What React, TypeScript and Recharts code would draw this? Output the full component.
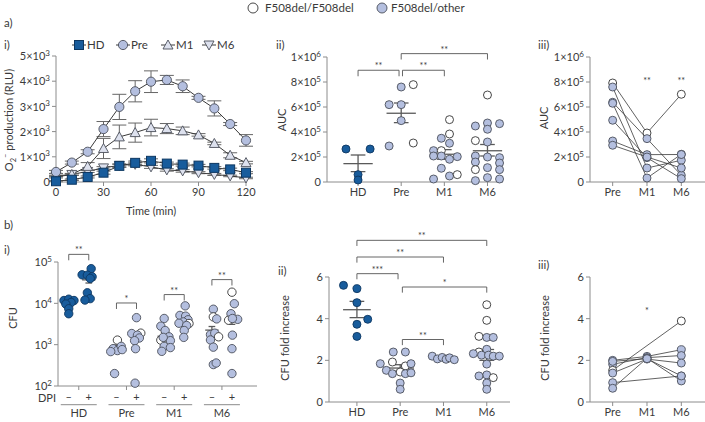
import React from "react";
import {
  ComposedChart,
  Line,
  Scatter,
  XAxis,
  YAxis,
  ErrorBar,
  ReferenceLine,
} from "recharts";

const FONT = "Lato, 'Noto Sans', 'DejaVu Sans', sans-serif";
const INK = "#3a3a3a";
const AXIS = "#8c8c8c";
const DARK = "#185c9c";
const DARK_EDGE = "#0d3761";
const LIGHT = "#b4bfdf";
const EDGE = "#4b4f5a";
const TRI = "#dde1ee";
const MEAN = "#5a5a5a";
const FILL = [DARK, LIGHT, "#ffffff"];
const STROKE = [DARK_EDGE, EDGE, "#333333"];

// kind: 0 = healthy donor (dark), 1 = F508del/other (light), 2 = F508del/F508del (open)
type Pt = [number, number, number]; // value, x jitter (category units), kind

// ---------- a) i) O2- production kinetics ----------
const TIME = [0, 10, 20, 30, 40, 50, 60, 70, 80, 90, 100, 110, 120];
const HD_O2 = [30, 90, 200, 370, 640, 760, 840, 730, 690, 650, 560, 500, 370];
const HD_ERR = [20, 30, 40, 60, 60, 70, 80, 60, 60, 50, 50, 50, 40];
const PRE_O2 = [400, 770, 1200, 2100, 2980, 3600, 3980, 4050, 3800, 3340, 2920, 2300, 1650];
const PRE_ERR = [60, 60, 80, 300, 500, 420, 430, 180, 250, 60, 300, 60, 230];
const M1_O2 = [200, 300, 620, 1330, 1790, 1960, 2160, 2120, 2030, 1870, 1530, 1060, 770];
const M1_ERR = [40, 40, 150, 400, 470, 380, 330, 200, 150, 50, 50, 100, 50];
const M6_O2 = [240, 300, 420, 560, 660, 700, 600, 480, 440, 370, 300, 240, 160];
const M6_ERR = [30, 30, 40, 50, 60, 60, 60, 50, 50, 40, 40, 30, 30];
const SERIES = ["HD", "Pre", "M1", "M6"];

// ---------- a) ii) AUC (x10^5) ----------
const AUC_UNIT = 1e5;
const AUC_HD: Pt[] = [[2.64, -0.28, 0], [2.64, 0.28, 0], [0.59, 0, 0], [0.16, 0, 0]];
const AUC_PRE: Pt[] = [
  [7.6, 0, 1], [7.79, 0.28, 2], [6.19, -0.28, 1], [6.19, 0, 1], [4.91, 0, 1], [2.88, -0.28, 1], [3.12, 0.28, 2],
];
const AUC_M1: Pt[] = [
  [4.99, 0.12, 2], [3.84, 0.12, 2], [3.5, -0.07, 1], [3.1, 0.12, 1], [2.51, -0.25, 1], [2.51, -0.07, 2],
  [2.08, -0.25, 1], [2.08, -0.07, 1], [1.82, 0.12, 1], [2.03, 0.3, 1], [1.1, -0.07, 1], [0.48, 0.12, 1],
  [0.59, 0.3, 2], [0.24, -0.25, 1],
];
const AUC_M6: Pt[] = [
  [6.96, 0, 2], [4.48, -0.28, 1], [4.72, 0, 1], [4.67, 0.28, 1], [4.22, 0, 1], [3.31, -0.28, 2], [3.2, 0, 1],
  [2.08, -0.28, 1], [2.0, 0, 1], [1.95, 0.28, 1], [1.6, -0.28, 1], [1.52, 0.28, 1], [1.15, 0, 1],
  [0.99, -0.28, 2], [0.99, 0.28, 1], [0.35, 0, 1], [0.11, -0.28, 1], [0.24, 0.28, 1],
];
const AUC_MEAN = [1.47, 5.5, 2.22, 2.5];
const AUC_LO = [0.83, 4.75, 1.82, 2.08];
const AUC_HI = [2.16, 6.32, 2.59, 3.0];

// ---------- a) iii) paired AUC (x10^5) ----------
const PAIRED_CATS = ["Pre", "M1", "M6"];
const AUC_P_PRE = [7.92, 7.6, 6.38, 6.3, 4.94, 3.28, 2.94];
const AUC_P_M1 = [3.92, 1.12, 3.47, 0.32, 1.95, 2.19, 2.0];
const AUC_P_M6 = [7.02, 1.74, 0.54, 2.22, 0.27, 2.2, 1.12];
const AUC_P_KIND = [2, 1, 1, 1, 1, 1, 1];

// ---------- b) i) CFU with / without DPI ----------
const CFU_GROUPS = ["HD", "Pre", "M1", "M6"];
const CFU_SETS: Pt[][] = [
  // HD -
  [[11700, -0.1, 0], [12600, 0, 0], [11700, 0.11, 0], [10500, 0.05, 0], [9600, -0.06, 0], [7400, 0, 0], [5600, 0, 0]],
  // HD +
  [[69000, 0.05, 0], [49000, -0.14, 0], [48000, -0.03, 0], [44000, 0.07, 0], [40000, 0.03, 0], [18000, -0.03, 0], [13000, 0.03, 0], [12000, -0.08, 0]],
  // Pre -
  [[1290, 0.02, 2], [800, -0.07, 1], [720, 0.02, 1], [910, 0.1, 1], [760, 0.12, 1], [680, -0.12, 1], [200, -0.04, 1]],
  // Pre +
  [[4500, 0, 1], [1860, -0.1, 1], [1900, 0.09, 2], [1700, 0.02, 1], [1450, 0.06, 1], [1250, -0.04, 1], [800, -0.02, 1], [117, -0.03, 1]],
  // M1 -
  [[4300, 0, 1], [2800, -0.07, 1], [2200, 0.02, 1], [1290, -0.07, 2], [1550, 0.1, 1], [1250, 0.13, 1], [1500, -0.02, 1], [910, 0, 1], [850, 0.13, 1], [690, -0.05, 1]],
  // M1 +
  [[8700, 0.02, 1], [5100, -0.09, 1], [4900, 0.03, 1], [4000, 0.08, 1], [3550, -0.02, 1], [3250, 0.1, 2], [3300, -0.11, 1], [2900, 0.05, 1], [2200, 0, 1], [1500, -0.01, 1]],
  // M6 -
  [[7200, 0.03, 1], [4700, 0.03, 2], [4200, 0.1, 1], [1750, -0.03, 1], [1900, 0.06, 1], [1550, 0.14, 2], [1300, -0.03, 1], [870, 0.03, 1], [330, 0.03, 1], [360, 0.09, 1]],
  // M6 +
  [[18600, 0, 2], [9800, 0.05, 1], [5600, -0.02, 1], [4100, 0.12, 1], [3900, -0.07, 2], [4300, 0.01, 1], [1700, 0.01, 1], [800, 0, 1], [200, 0, 1]],
];
const CFU_MEAN = [9800, 37000, 850, 1600, 1600, 3500, 2250, 4000];
const CFU_LO = [8800, 31000, 740, 1300, 1250, 2900, 1800, 3100];
const CFU_HI = [10900, 46000, 980, 1950, 1950, 4200, 2750, 5300];

// ---------- b) ii) CFU fold increase ----------
const FOLD_HD: Pt[] = [[5.6, -0.31, 0], [5.44, 0, 0], [4.77, 0, 0], [3.97, 0.25, 0], [3.73, 0, 0], [3.15, 0, 0]];
const FOLD_PRE: Pt[] = [
  [2.4, -0.16, 1], [2.4, 0.12, 1], [1.84, -0.46, 1], [1.92, -0.18, 2], [1.73, 0.12, 2], [1.84, 0.25, 1],
  [1.52, -0.32, 1], [1.44, 0, 2], [1.36, -0.18, 1], [1.36, 0.12, 1], [1.4, 0.25, 1], [0.91, 0, 1], [0.61, 0, 1],
];
const FOLD_M1: Pt[] = [[2.2, -0.26, 1], [2.07, -0.14, 1], [2.14, -0.03, 1], [2.05, 0.06, 1], [2.12, 0.14, 1], [2.03, 0.25, 1]];
const FOLD_M6: Pt[] = [
  [4.67, 0, 2], [3.92, 0, 2], [3.15, -0.18, 2], [3.1, 0, 1], [3.1, 0.15, 1], [2.53, 0, 1], [2.4, -0.18, 2],
  [2.32, -0.31, 1], [2.25, -0.12, 1], [2.25, 0.04, 1], [2.2, 0.15, 1], [2.2, 0.29, 1], [1.82, 0, 1],
  [1.3, 0, 1], [1.25, -0.18, 1], [1.17, 0.15, 2], [0.91, 0, 1], [0.61, 0, 1],
];
const FOLD_MEAN = [4.43, 1.63, 2.07, 2.27];
const FOLD_LO = [4.05, 1.47, 2.04, 2.0];
const FOLD_HI = [4.83, 1.79, 2.1, 2.52];

// ---------- b) iii) paired fold increase ----------
const FOLD_P_PRE = [2.0, 1.81, 1.52, 1.39, 0.93, 0.66, 1.95];
const FOLD_P_M1 = [2.19, 2.13, null, 2.06, null, 2.1, 2.08];
const FOLD_P_M6 = [2.51, 2.23, 3.89, 1.87, 1.25, 1.01, 1.25];
const FOLD_P_KIND = [1, 1, 2, 1, 1, 1, 1];

const toPts = (groups: Pt[][], unit = 1) =>
  groups.flatMap((g, ci) => g.map(([v, dx, k]) => ({ x: ci + dx, y: v * unit, k })));

const pairedPts = (cols: (number | null)[][], kinds: number[], unit = 1) =>
  cols.flatMap((col, ci) =>
    col.flatMap((v, si) => (v == null ? [] : [{ x: ci, y: v * unit, k: kinds[si] }]))
  );

const dot = (r: number) => (p: any) => (
  <circle
    key={p.index}
    cx={p.cx}
    cy={p.cy}
    r={r}
    fill={FILL[p.payload.k]}
    stroke={STROKE[p.payload.k]}
    strokeWidth={0.9}
  />
);

const seg = (key: string, x1: number, y1: number, x2: number, y2: number, stroke: string, w: number, label?: any) => (
  <ReferenceLine
    key={key}
    segment={[{ x: x1, y: y1 }, { x: x2, y: y2 }]}
    stroke={stroke}
    strokeWidth={w}
    ifOverflow="visible"
    label={label}
  />
);

const meanLines = (id: string, xs: number[], mean: number[], lo: number[], hi: number[], hw: number, cw: number) =>
  xs.flatMap((c, i) => [
    seg(`${id}m${i}`, c - hw, mean[i], c + hw, mean[i], MEAN, 1.3),
    seg(`${id}v${i}`, c, lo[i], c, hi[i], MEAN, 1.3),
    seg(`${id}l${i}`, c - cw, lo[i], c + cw, lo[i], MEAN, 1.3),
    seg(`${id}h${i}`, c - cw, hi[i], c + cw, hi[i], MEAN, 1.3),
  ]);

const starLabel = (text: string) => ({
  value: text,
  position: "top",
  offset: 1,
  fill: INK,
  fontSize: 9,
  fontFamily: FONT,
});

const bracket = (id: string, x1: number, x2: number, y: number, yLow: number, text: string) => [
  seg(`${id}t`, x1, y, x2, y, "#555", 0.9, starLabel(text)),
  seg(`${id}a`, x1, y, x1, yLow, "#555", 0.9),
  seg(`${id}b`, x2, y, x2, yLow, "#555", 0.9),
];

const stars = (id: string, x: number, y: number, text: string) =>
  seg(id, x - 0.05, y, x + 0.05, y, "none", 0, starLabel(text));

const axisBase = {
  stroke: AXIS,
  tickLine: { stroke: AXIS },
  tickSize: 4,
  tick: { fill: INK, fontSize: 11, fontFamily: FONT },
  interval: 0 as const,
};

// y tick with a real raised exponent: "5×10³", "1×10⁶", "10⁴"
const sciTick = (fmt: (v: number) => [string, string]) => (p: any) => {
  const [base, exp] = fmt(p.payload.value);
  return (
    <text
      key={p.payload.value}
      x={p.x}
      y={p.y}
      dy="0.38em"
      textAnchor="end"
      fill={INK}
      fontSize={11}
      fontFamily={FONT}
    >
      {base}
      {exp && (
        <tspan dy={-4.5} fontSize={8}>
          {exp}
        </tspan>
      )}
    </text>
  );
};

const o2Fmt = (v: number): [string, string] => (v === 0 ? ["0", ""] : [`${v / 1000}×10`, "3"]);
const aucFmt = (v: number): [string, string] =>
  v === 0 ? ["0", ""] : v === 1e6 ? ["1×10", "6"] : [`${v / 1e5}×10`, "5"];
const logFmt = (v: number): [string, string] => ["10", String(Math.round(Math.log10(v)))];

const box = (l: number, t: number, w: number, h: number): React.CSSProperties => ({
  position: "absolute",
  left: l,
  top: t,
  width: w,
  height: h,
});

function Txt({
  x, y, children, anchor = "start", rotate = false, size = 11,
}: { x: number; y: number; children: React.ReactNode; anchor?: "start" | "middle" | "end"; rotate?: boolean; size?: number }) {
  const tx = anchor === "start" ? "0" : anchor === "middle" ? "-50%" : "-100%";
  return (
    <div
      style={{
        position: "absolute",
        left: x,
        top: y,
        transform: `translate(${tx}, -50%)${rotate ? " rotate(-90deg)" : ""}`,
        fontSize: size,
        color: INK,
        whiteSpace: "nowrap",
        lineHeight: 1,
      }}
    >
      {children}
    </div>
  );
}

const A1_ROWS = TIME.map((t, i) => ({
  t,
  hd: HD_O2[i], hdE: HD_ERR[i],
  pre: PRE_O2[i], preE: PRE_ERR[i],
  m1: M1_O2[i], m1E: M1_ERR[i],
  m6: M6_O2[i], m6E: M6_ERR[i],
}));

const square = (p: any) => (
  <rect key={p.index} x={p.cx - 4.5} y={p.cy - 4.5} width={9} height={9} fill={DARK} stroke={DARK_EDGE} strokeWidth={1} />
);
const circ = (p: any) => <circle key={p.index} cx={p.cx} cy={p.cy} r={4.6} fill={LIGHT} stroke={EDGE} strokeWidth={0.9} />;
const triUp = (p: any) => (
  <polygon key={p.index} points={`${p.cx},${p.cy - 5} ${p.cx - 5},${p.cy + 4} ${p.cx + 5},${p.cy + 4}`} fill={TRI} stroke={EDGE} strokeWidth={0.9} />
);
const triDown = (p: any) => (
  <polygon key={p.index} points={`${p.cx},${p.cy + 5} ${p.cx - 5},${p.cy - 4} ${p.cx + 5},${p.cy - 4}`} fill={TRI} stroke={EDGE} strokeWidth={0.9} />
);
const MARKERS = [square, circ, triUp, triDown];

function PanelAi() {
  return (
    <div style={box(0, 30, 260, 190)}>
      <ComposedChart width={260} height={190} data={A1_ROWS} margin={{ top: 26, right: 14, bottom: 18, left: 16 }}>
        <XAxis {...axisBase} dataKey="t" type="number" domain={[0, 120]} ticks={[0, 30, 60, 90, 120]} height={20} />
        <YAxis
          {...axisBase}
          type="number"
          domain={[0, 5000]}
          ticks={[0, 1000, 2000, 3000, 4000, 5000]}
          width={40}
          tick={sciTick(o2Fmt)}
        />
        <Line dataKey="m6" stroke={INK} strokeWidth={1} dot={triDown} isAnimationActive={false}>
          <ErrorBar dataKey="m6E" width={7} stroke="#666" strokeWidth={1} />
        </Line>
        <Line dataKey="m1" stroke={INK} strokeWidth={1} dot={triUp} isAnimationActive={false}>
          <ErrorBar dataKey="m1E" width={7} stroke="#666" strokeWidth={1} />
        </Line>
        <Line dataKey="pre" stroke={INK} strokeWidth={1} dot={circ} isAnimationActive={false}>
          <ErrorBar dataKey="preE" width={7} stroke="#666" strokeWidth={1} />
        </Line>
        <Line dataKey="hd" stroke={INK} strokeWidth={1} dot={square} isAnimationActive={false}>
          <ErrorBar dataKey="hdE" width={7} stroke="#666" strokeWidth={1} />
        </Line>
      </ComposedChart>
    </div>
  );
}

function LegendAi() {
  const xs = [79, 123, 168, 209];
  return (
    <svg style={box(0, 35, 260, 20)} width={260} height={20}>
      {SERIES.map((s, i) => (
        <g key={s}>
          <line x1={xs[i] - 7} x2={xs[i] + 7} y1={10} y2={10} stroke={INK} strokeWidth={1} />
          {MARKERS[i]({ cx: xs[i], cy: 10, index: s })}
          <text x={xs[i] + 8} y={10} dy="0.35em" fontSize={11.5} fill={INK} fontFamily={FONT}>
            {s}
          </text>
        </g>
      ))}
    </svg>
  );
}

function PanelAii() {
  const pts = toPts([AUC_HD, AUC_PRE, AUC_M1, AUC_M6], AUC_UNIT);
  const u = (a: number[]) => a.map((v) => v * AUC_UNIT);
  return (
    <div style={box(270, 30, 240, 170)}>
      <ComposedChart width={240} height={170} margin={{ top: 27, right: 7, bottom: 0, left: 12 }}>
        <XAxis
          {...axisBase}
          dataKey="x"
          type="number"
          domain={[-0.72, 3.36]}
          ticks={[0, 1, 2, 3]}
          tickFormatter={(v: number) => SERIES[v]}
          height={18}
        />
        <YAxis
          {...axisBase}
          dataKey="y"
          type="number"
          domain={[0, 1e6]}
          ticks={[0, 2e5, 4e5, 6e5, 8e5, 1e6]}
          width={45}
          tick={sciTick(aucFmt)}
        />
        <Scatter data={pts} shape={dot(4)} isAnimationActive={false} />
        {meanLines("a2", [0, 1, 2, 3], u(AUC_MEAN), u(AUC_LO), u(AUC_HI), 0.34, 0.17)}
        {bracket("b1", 0, 0.95, 8.94e5, 8.46e5, "**")}
        {bracket("b2", 1.03, 2, 8.94e5, 8.46e5, "**")}
        {bracket("b3", 1, 3, 10.27e5, 9.8e5, "**")}
      </ComposedChart>
    </div>
  );
}

function PanelAiii() {
  const cols = [AUC_P_PRE, AUC_P_M1, AUC_P_M6];
  const pts = pairedPts(cols, AUC_P_KIND, AUC_UNIT);
  return (
    <div style={box(545, 30, 160, 170)}>
      <ComposedChart width={160} height={170} margin={{ top: 27, right: 0, bottom: 0, left: 5 }}>
        <XAxis
          {...axisBase}
          dataKey="x"
          type="number"
          domain={[-0.66, 2.69]}
          ticks={[0, 1, 2]}
          tickFormatter={(v: number) => PAIRED_CATS[v]}
          height={18}
        />
        <YAxis
          {...axisBase}
          dataKey="y"
          type="number"
          domain={[0, 1e6]}
          ticks={[0, 2e5, 4e5, 6e5, 8e5, 1e6]}
          width={40}
          tick={sciTick(aucFmt)}
        />
        {AUC_P_PRE.map((_, s) => (
          <Line
            key={s}
            data={cols.map((c, ci) => ({ x: ci, y: c[s] * AUC_UNIT }))}
            dataKey="y"
            stroke={INK}
            strokeWidth={0.8}
            dot={false}
            isAnimationActive={false}
          />
        ))}
        <Scatter data={pts} shape={dot(4)} isAnimationActive={false} />
        {stars("s1", 1, 7.8e5, "**")}
        {stars("s2", 2, 7.8e5, "**")}
      </ComposedChart>
    </div>
  );
}

function PanelBi() {
  const pts = CFU_SETS.flatMap((set, i) => {
    const g = Math.floor(i / 2);
    const side = i % 2 ? 0.21 : -0.21;
    return set.map(([v, dx, k]) => ({ x: g + side + dx, y: v, k }));
  });
  const xs = CFU_SETS.map((_, i) => Math.floor(i / 2) + (i % 2 ? 0.21 : -0.21));
  const tick = (p: any) => {
    const { x, y, payload } = p;
    return (
      <g key={payload.value} fontFamily={FONT} fill={INK}>
        <text x={x - 10} y={y + 5} dy="0.35em" textAnchor="middle" fontSize={11}>–</text>
        <text x={x + 10} y={y + 5} dy="0.35em" textAnchor="middle" fontSize={11}>+</text>
        <line x1={x - 18} x2={x + 18} y1={y + 12.7} y2={y + 12.7} stroke={AXIS} strokeWidth={1} />
        <text x={x} y={y + 21} dy="0.35em" textAnchor="middle" fontSize={11}>
          {CFU_GROUPS[payload.value]}
        </text>
      </g>
    );
  };
  return (
    <div style={box(0, 235, 265, 187)}>
      <ComposedChart width={265} height={187} margin={{ top: 27, right: 8, bottom: 0, left: 18 }}>
        <XAxis {...axisBase} dataKey="x" type="number" domain={[-0.435, 3.735]} ticks={[0, 1, 2, 3]} tick={tick} height={36} />
        <YAxis
          {...axisBase}
          dataKey="y"
          type="number"
          scale="log"
          domain={[100, 100000]}
          ticks={[100, 1000, 10000, 100000]}
          width={40}
          tick={sciTick(logFmt)}
        />
        <Scatter data={pts} shape={dot(4.2)} isAnimationActive={false} />
        {meanLines("b1", xs, CFU_MEAN, CFU_LO, CFU_HI, 0.14, 0.07)}
        {bracket("c1", -0.21, 0.21, 1.53e5, 1.1e5, "**")}
        {bracket("c2", 0.79, 1.21, 1.02e4, 7.3e3, "*")}
        {bracket("c3", 1.79, 2.21, 1.63e4, 1.17e4, "**")}
        {bracket("c4", 2.79, 3.21, 3.75e4, 2.7e4, "**")}
      </ComposedChart>
    </div>
  );
}

function PanelBii() {
  const pts = toPts([FOLD_HD, FOLD_PRE, FOLD_M1, FOLD_M6]);
  return (
    <div style={box(270, 225, 240, 197)}>
      <ComposedChart width={240} height={197} margin={{ top: 52, right: 0, bottom: 0, left: 19 }}>
        <XAxis
          {...axisBase}
          dataKey="x"
          type="number"
          domain={[-0.645, 3.537]}
          ticks={[0, 1, 2, 3]}
          tickFormatter={(v: number) => SERIES[v]}
          height={20}
        />
        <YAxis {...axisBase} dataKey="y" type="number" domain={[0, 6]} ticks={[0, 2, 4, 6]} width={40} />
        <Scatter data={pts} shape={dot(4)} isAnimationActive={false} />
        {meanLines("f", [0, 1, 2, 3], FOLD_MEAN, FOLD_LO, FOLD_HI, 0.32, 0.17)}
        {bracket("d1", 0, 3, 7.76, 7.49, "**")}
        {bracket("d2", 0, 2, 6.96, 6.69, "**")}
        {bracket("d3", 0, 0.95, 6.16, 5.89, "***")}
        {bracket("d4", 1.05, 3, 5.52, 5.25, "*")}
        {bracket("d5", 1.05, 2, 3.0, 2.73, "**")}
      </ComposedChart>
    </div>
  );
}

function PanelBiii() {
  const cols = [FOLD_P_PRE, FOLD_P_M1, FOLD_P_M6];
  const pts = pairedPts(cols, FOLD_P_KIND);
  return (
    <div style={box(545, 225, 160, 197)}>
      <ComposedChart width={160} height={197} margin={{ top: 52, right: 0, bottom: 0, left: 5 }}>
        <XAxis
          {...axisBase}
          dataKey="x"
          type="number"
          domain={[-0.66, 2.69]}
          ticks={[0, 1, 2]}
          tickFormatter={(v: number) => PAIRED_CATS[v]}
          height={20}
        />
        <YAxis {...axisBase} dataKey="y" type="number" domain={[0, 6]} ticks={[0, 2, 4, 6]} width={40} />
        {FOLD_P_PRE.map((_, s) => (
          <Line
            key={s}
            data={cols.map((c, ci) => ({ x: ci, y: c[s] }))}
            dataKey="y"
            stroke={INK}
            strokeWidth={0.8}
            dot={false}
            connectNulls
            isAnimationActive={false}
          />
        ))}
        <Scatter data={pts} shape={dot(4)} isAnimationActive={false} />
        {stars("s3", 1, 4.2, "*")}
      </ComposedChart>
    </div>
  );
}

export default function App() {
  return (
    <div
      style={{
        position: "absolute",
        left: 0,
        top: 0,
        width: 705,
        height: 422,
        background: "#fff",
        overflow: "hidden",
        fontFamily: FONT,
        color: INK,
      }}
    >
      <svg style={box(245, 0, 260, 18)} width={260} height={18}>
        <circle cx={8} cy={8} r={5} fill="#fff" stroke="#333" strokeWidth={0.9} />
        <text x={20} y={8} dy="0.35em" fontSize={11.5} fill={INK} fontFamily={FONT}>F508del/F508del</text>
        <circle cx={137} cy={8} r={5} fill={LIGHT} stroke={EDGE} strokeWidth={0.9} />
        <text x={146} y={8} dy="0.35em" fontSize={11.5} fill={INK} fontFamily={FONT}>F508del/other</text>
      </svg>

      <Txt x={4} y={23} size={11.5}>a)</Txt>
      <Txt x={4} y={45} size={11.5}>i)</Txt>
      <Txt x={276} y={45} size={11.5}>ii)</Txt>
      <Txt x={538} y={45} size={11.5}>iii)</Txt>
      <Txt x={4} y={225} size={11.5}>b)</Txt>
      <Txt x={4} y={250} size={11.5}>i)</Txt>
      <Txt x={278} y={271} size={11.5}>ii)</Txt>
      <Txt x={538} y={265} size={11.5}>iii)</Txt>

      <Txt x={10} y={120} anchor="middle" rotate>
        O<sub style={{ fontSize: 7.5 }}>2</sub>
        <sup style={{ fontSize: 7.5 }}>–</sup> production (RLU)
      </Txt>
      <Txt x={151} y={210} anchor="middle">Time (min)</Txt>
      <Txt x={281} y={120} anchor="middle" rotate>AUC</Txt>
      <Txt x={543} y={118} anchor="middle" rotate>AUC</Txt>
      <Txt x={12} y={318} anchor="middle" rotate>CFU</Txt>
      <Txt x={56} y={397} anchor="end">DPI</Txt>
      <Txt x={284} y={338} anchor="middle" rotate>CFU fold increase</Txt>
      <Txt x={544} y={338} anchor="middle" rotate>CFU fold increase</Txt>

      <PanelAi />
      <LegendAi />
      <PanelAii />
      <PanelAiii />
      <PanelBi />
      <PanelBii />
      <PanelBiii />
    </div>
  );
}
